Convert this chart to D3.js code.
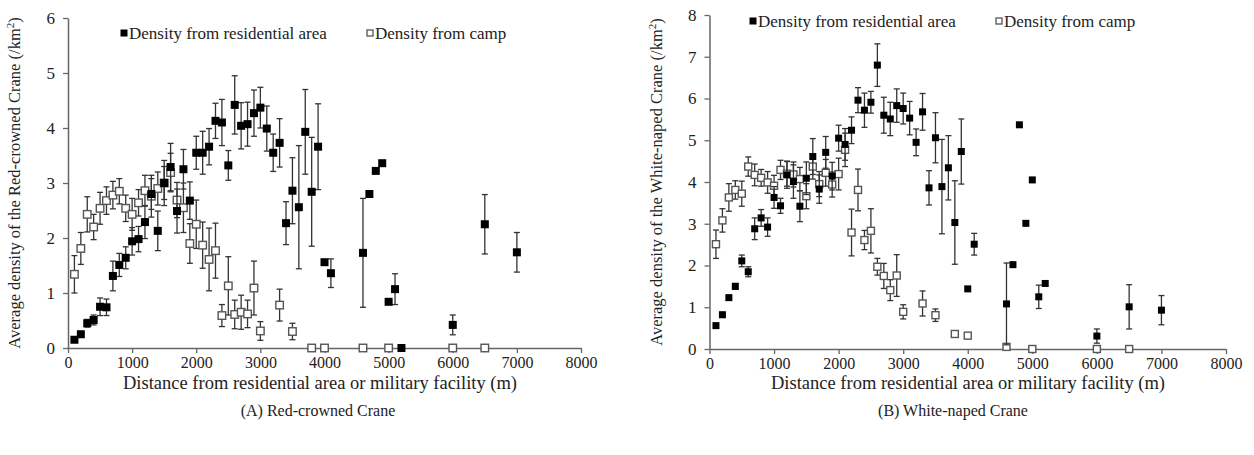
<!DOCTYPE html>
<html><head><meta charset="utf-8">
<script src="https://cdn.jsdelivr.net/npm/d3@7"></script>
<style>
body{margin:0;background:#fff;}
text{font-family:"Liberation Serif","Times New Roman",serif;fill:#222;}
</style></head>
<body><svg id="c" width="1254" height="455"></svg>
<script>
// ---------- Data ----------
const xTicks = [0,1000,2000,3000,4000,5000,6000,7000,8000];
const yTicksA = [0,1,2,3,4,5,6];
const yTicksB = [0,1,2,3,4,5,6,7,8];
const legendLabels = ["Density from residential area","Density from camp"];

// (A) Red-crowned Crane
const aResX = [100,200,300,400,500,600,700,800,900,1000,1100,1200,1300,1400,1500,1600,1700,1800,1900,2000,2100,2200,2300,2400,2500,2600,2700,2800,2900,3000,3100,3200,3300,3400,3500,3600,3700,3800,3900,4000,4100,4600,4700,4800,4900,5000,5100,5200,6000,6500,7000];
const aResY = [0.15,0.25,0.45,0.51,0.75,0.74,1.31,1.51,1.64,1.94,1.98,2.29,2.8,2.13,3.0,3.29,2.49,3.25,2.68,3.55,3.55,3.66,4.13,4.1,3.32,4.42,4.04,4.07,4.27,4.37,3.99,3.55,3.73,2.27,2.86,2.56,3.93,2.84,3.66,1.56,1.36,1.73,2.8,3.22,3.36,0.84,1.07,0.0,0.42,2.25,1.74];
const aResErr = [0,0.05,0.07,0.09,0.16,0.15,0.27,0.21,0.2,0.25,0.23,0.3,0.28,0.36,0.41,0.43,0.4,0.36,0.34,0.3,0.39,0.33,0.32,0.42,0.27,0.53,0.42,0.4,0.42,0.37,0.41,0.34,0.44,0.39,0.6,1.12,0.77,0.99,0.78,0,0.26,0.99,0,0,0,0,0.28,0,0.18,0.54,0.36];
const aCampX = [100,200,300,400,500,600,700,800,900,1000,1100,1200,1300,1400,1500,1600,1700,1800,1900,2000,2100,2200,2300,2400,2500,2600,2700,2800,2900,3000,3300,3500,3800,4000,4600,5000,6000,6500];
const aCampY = [1.34,1.81,2.43,2.2,2.54,2.68,2.78,2.85,2.54,2.43,2.64,2.86,2.76,2.9,3.0,3.19,2.69,2.55,1.9,2.25,1.87,1.61,1.77,0.59,1.13,0.61,0.65,0.62,1.09,0.31,0.78,0.3,0,0,0,0,0,0];
const aCampErr = [0.34,0.29,0.32,0.23,0.29,0.25,0.25,0.23,0.24,0.29,0.24,0.28,0.38,0.3,0.3,0.35,0.32,0.45,0.36,0.44,0.42,0.57,0.5,0.2,0.53,0.26,0.31,0.25,0.49,0.17,0.29,0.15,0,0,0,0,0,0];

// (B) White-naped Crane
const bResX = aResX.slice();
const bResY = [0.56,0.82,1.23,1.5,2.11,1.85,2.88,3.14,2.92,3.63,3.43,4.17,4.01,3.42,4.09,4.61,3.83,4.71,4.14,5.05,4.9,5.24,5.96,5.72,5.91,6.8,5.6,5.51,5.83,5.76,5.53,4.95,5.68,3.86,5.06,3.89,4.34,3.03,4.73,1.44,2.51,1.08,2.02,5.37,3.01,4.05,1.25,1.57,0.31,1.01,0.93];
const bResErr = [0.03,0.06,0.05,0.07,0.14,0.12,0.26,0.2,0.22,0.26,0.18,0.32,0.4,0.37,0.39,0.43,0.34,0.38,0.33,0.31,0.38,0.32,0.3,0.41,0.26,0.51,0.43,0.4,0.4,0.37,0.4,0.32,0.44,0.41,0.6,1.13,0.77,1.0,0.78,0,0.26,0.98,0,0,0,0,0.28,0,0.17,0.53,0.35];
const bCampX = [100,200,300,400,500,600,700,800,900,1000,1100,1200,1300,1400,1500,1600,1700,1800,1900,2000,2100,2200,2300,2400,2500,2600,2700,2800,2900,3000,3300,3500,3800,4000,4600,5000,6000,6500];
const bCampY = [2.51,3.08,3.63,3.81,3.72,4.37,4.17,4.1,3.99,3.91,4.29,4.2,4.18,4.07,3.66,4.37,3.95,4.22,3.94,4.19,4.77,2.79,3.81,2.61,2.83,1.97,1.75,1.41,1.76,0.89,1.09,0.81,0.36,0.32,0.05,0,0,0];
const bCampErr = [0.34,0.28,0.33,0.22,0.3,0.23,0.26,0.2,0.26,0.25,0.23,0.3,0.3,0.28,0.3,0.3,0.3,0.32,0.3,0.38,0.4,0.56,0.5,0.23,0.53,0.2,0.3,0.25,0.5,0.17,0.3,0.15,0.03,0.03,0,0,0,0];

// ---------- Drawing ----------
const svg = d3.select("#c");

function panel(o){
  const g = svg.append("g");
  const x = d3.scaleLinear().domain([0,8000]).range([o.x0,o.x1]);
  const y = d3.scaleLinear().domain([0,o.ymax]).range([o.y0,o.y1]);

  const xa = g.append("g").attr("transform",`translate(0,${o.y0})`)
    .call(d3.axisBottom(x).tickValues(xTicks).tickFormat(d3.format("d")).tickSize(5).tickSizeOuter(0).tickPadding(4));
  const ya = g.append("g").attr("transform",`translate(${o.x0},0)`)
    .call(d3.axisLeft(y).tickValues(o.yTicks).tickFormat(d3.format("d")).tickSize(5).tickSizeOuter(0).tickPadding(8));
  [xa,ya].forEach(a=>{
    a.select(".domain").attr("stroke","#666").attr("stroke-width",1.5);
    a.selectAll(".tick line").attr("stroke","#666").attr("stroke-width",1.3);
    a.selectAll("text").attr("font-family","Liberation Serif").attr("fill","#222");
  });
  xa.selectAll("text").attr("font-size",16);
  ya.selectAll("text").attr("font-size",o.ytf);

  function series(xs,ys,es,filled,sz){
    const data = xs.map((v,i)=>({x:v,y:ys[i],e:es[i]}));
    const eb = g.append("g").attr("stroke","#333").attr("stroke-width",1.3);
    data.filter(d=>d.e>0).forEach(d=>{
      const cx = x(d.x), top=y(d.y+d.e), bot=y(Math.max(0,d.y-d.e));
      eb.append("line").attr("x1",cx).attr("x2",cx).attr("y1",top).attr("y2",bot);
      eb.append("line").attr("x1",cx-3).attr("x2",cx+3).attr("y1",top).attr("y2",top);
      eb.append("line").attr("x1",cx-3).attr("x2",cx+3).attr("y1",bot).attr("y2",bot);
    });
    g.append("g").selectAll("rect").data(data).join("rect")
      .attr("x",d=>x(d.x)-sz/2).attr("y",d=>y(d.y)-sz/2)
      .attr("width",sz).attr("height",sz)
      .attr("fill",filled?"#000":"#fff")
      .attr("stroke",filled?"#000":"#555")
      .attr("stroke-width",filled?0:1.4);
  }
  series(o.cx,o.cy,o.ce,false,o.osz);
  series(o.rx,o.ry,o.re,true,o.fsz);

  // legend
  const lg = g.append("g");
  lg.append("rect").attr("x",o.lx1-3.5).attr("y",o.ly-3.5).attr("width",7).attr("height",7).attr("fill","#000");
  lg.append("text").attr("x",o.lx1+5).attr("y",o.ly).attr("dy","0.35em").attr("font-size",17).text(legendLabels[0]);
  lg.append("rect").attr("x",o.lx2-3).attr("y",o.ly-3).attr("width",6).attr("height",6).attr("fill","#fff").attr("stroke","#555").attr("stroke-width",1.3);
  lg.append("text").attr("x",o.lx2+5).attr("y",o.ly).attr("dy","0.35em").attr("font-size",17).text(legendLabels[1]);

  // y title
  const yt = g.append("text").attr("transform",`translate(${o.ytx},${(o.y0+o.y1)/2}) rotate(-90)`)
    .attr("text-anchor","middle").attr("font-size",16.5);
  yt.append("tspan").text(o.ytitle+" (/km");
  yt.append("tspan").attr("baseline-shift","super").attr("font-size",11).text("2");
  yt.append("tspan").text(")");

  g.append("text").attr("x",o.xtx).attr("y",389).attr("text-anchor","middle").attr("font-size",18.5)
    .text("Distance from residential area or military facility (m)");
  g.append("text").attr("x",o.capx).attr("y",416).attr("text-anchor","middle").attr("font-size",16)
    .text(o.caption);
}

panel({x0:68,x1:581,y0:348,y1:18,ymax:6,yTicks:yTicksA,ytf:17,
  rx:aResX,ry:aResY,re:aResErr,cx:aCampX,cy:aCampY,ce:aCampErr,fsz:8,osz:7.5,
  lx1:124,lx2:370,ly:33,ytx:20,ytitle:"Average density of the Red-crowned Crane",
  xtx:320,capx:318,caption:"(A) Red-crowned Crane"});
panel({x0:709.5,x1:1226,y0:349,y1:15,ymax:8,yTicks:yTicksB,ytf:17,
  rx:bResX,ry:bResY,re:bResErr,cx:bCampX,cy:bCampY,ce:bCampErr,fsz:7,osz:7,
  lx1:753,lx2:999,ly:21,ytx:662,ytitle:"Average density of the White-naped Crane",
  xtx:968,capx:953,caption:"(B) White-naped Crane"});
</script>
</body></html>
